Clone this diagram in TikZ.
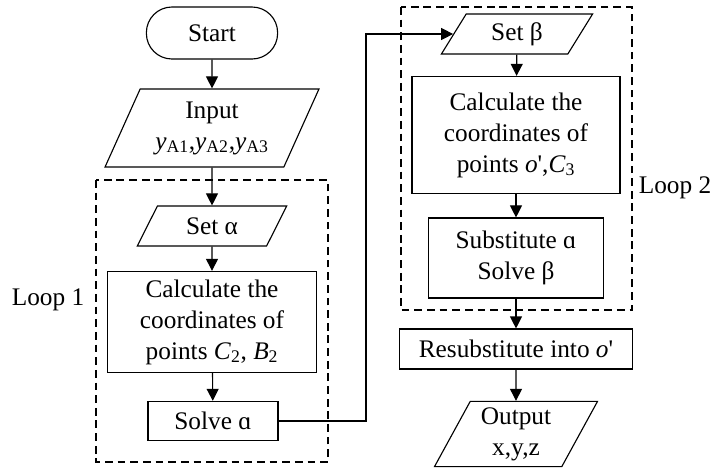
\documentclass[tikz,border=0pt]{standalone}
\usepackage{fontspec}
\setmainfont{Liberation Serif}
\usepackage{tikz}
\usetikzlibrary{shapes.geometric, arrows.meta}

\tikzset{
    term/.style={draw, line width=0.8pt, rectangle, rounded corners=0.64cm, align=center},
    io/.style={draw, line width=0.8pt, trapezium, trapezium left angle=63, trapezium right angle=117, trapezium stretches=true, align=center, inner sep=1pt},
    proc/.style={draw, line width=0.8pt, rectangle, align=center, inner sep=1pt},
    loopbox/.style={line width=0.75pt, dash pattern=on 5.5pt off 3.5pt},
    arr/.style={-{Triangle[length=0.3cm, width=0.3cm]}, line width=0.8pt}
}

\begin{document}
\begin{tikzpicture}[x=0.025cm, y=-0.025cm, font=\fontsize{18}{22}\selectfont]
        \useasboundingbox (0,0) rectangle (714,468);

        \node[term, minimum width=3.28cm, minimum height=1.3cm] (start) at (212,33) {Start};
        \node[io, minimum width=5.35cm, minimum height=1.95cm] (input) at (212,128) {Input\\\textit{y}\textsubscript{A1},\textit{y}\textsubscript{A2},\textit{y}\textsubscript{A3}};
        \node[io, minimum width=3.75cm, minimum height=1.0cm] (seta) at (212,226) {Set α};
        \node[proc, minimum width=5.23cm, minimum height=2.53cm] (calca) at (212,322) {Calculate the\\coordinates of\\points \textit{C}\textsubscript{2}, \textit{B}\textsubscript{2}};
        \node[proc, minimum width=3.25cm, minimum height=0.98cm] (solvea) at (213,421) {Solve ɑ};

        \node[io, minimum width=3.8cm, minimum height=1.0cm] (setb) at (517,34) {Set β};
        \node[proc, minimum width=5.2cm, minimum height=2.93cm] (calcb) at (516,135) {Calculate the\\coordinates of\\points \textit{o}\textquotesingle,\textit{C}\textsubscript{3}};
        \node[proc, minimum width=4.38cm, minimum height=2.0cm] (subst) at (516,258) {Substitute ɑ\\Solve β};
        \node[proc, minimum width=5.83cm, minimum height=1.0cm] (resub) at (516,349) {Resubstitute into \textit{o}\textquotesingle};
        \node[io, minimum width=4.08cm, minimum height=1.63cm] (output) at (516,434) {Output\\x,y,z};

        % loops
        \draw[loopbox] (96,180) rectangle (328,462);
        \draw[loopbox] (401,7) rectangle (632,310);
        \node (loopa) at (48,300) {Loop 1};
        \node (loopb) at (675,188) {Loop 2};

        % left column
        \draw[arr] (start) -- (input);
        \draw[arr] (input) -- (seta);
        \draw[arr] (seta) -- (calca);
        \draw[arr] (calca) -- (solvea);

        % solve -> set beta
        \coordinate (bend) at (366,200);
        \draw[arr] (solvea.east) -| (bend) |- (setb.west);

        % right column
        \draw[arr] (setb) -- (calcb);
        \draw[arr] (calcb) -- (subst);
        \draw[arr] (subst) -- (resub);
        \draw[arr] (resub) -- (output);
    \end{tikzpicture}
\end{document}
